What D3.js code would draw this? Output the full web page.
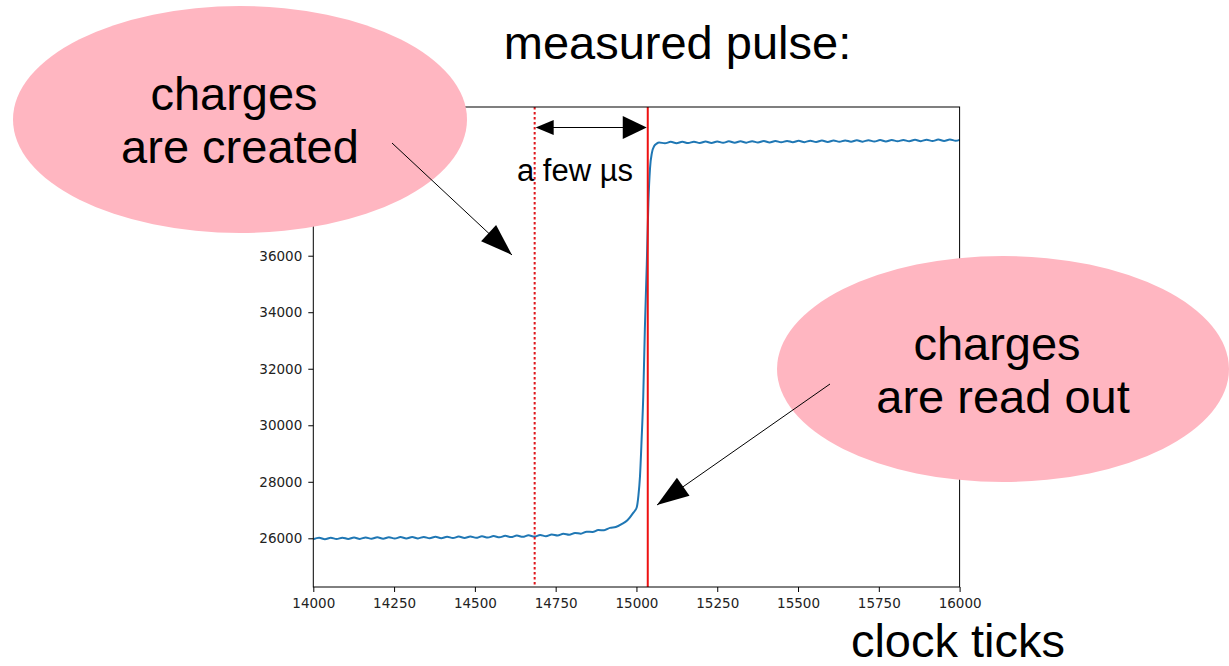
<!DOCTYPE html>
<html>
<head>
<meta charset="utf-8">
<script src="https://cdn.jsdelivr.net/npm/d3@7"></script>
<style>
  html, body { margin: 0; padding: 0; background: #fff; }
  svg { display: block; }
</style>
</head>
<body>
<svg id="chart" width="1229" height="666"></svg>
<script>
// Sampled detector pulse: clock tick vs. ADC counts
const sampleTicks = [
  14000,14018,14036,14054,14072,14090,14108,14126,14144,14162,14180,14198,14216,14234,14252,14270,
  14288,14306,14324,14342,14360,14378,14396,14414,14432,14450,14468,14486,14504,14522,14540,14558,
  14576,14594,14612,14630,14648,14666,14684,14702,14720,14738,14756,14774,14792,14810,14828,14846,
  14864,14882,14900,14918,14936,14954,14972,14990,
  15001,15006,15011,15016,15021,15026,15032,15037,15042,15048,15055,15062,15070,
  15088,15106,15124,15142,15160,15178,15196,15214,15232,15250,15268,15286,15304,15322,15340,15358,
  15376,15394,15412,15430,15448,15466,15484,15502,15520,15538,15556,15574,15592,15610,15628,15646,
  15664,15682,15700,15718,15736,15754,15772,15790,15808,15826,15844,15862,15880,15898,15916,15934,
  15952,15970,15988,16000
];
const sampleCounts = [
  25965,26017,25969,26020,25972,26024,25976,26028,25979,26031,25983,26035,25987,26038,25990,26042,
  25994,26046,25997,26049,26001,26053,26005,26056,26008,26060,26012,26064,26016,26071,26026,26080,
  26035,26089,26043,26098,26052,26107,26061,26116,26075,26137,26100,26162,26125,26190,26165,26235,
  26225,26290,26285,26370,26400,26500,26640,26900,
  27100,27500,28200,29500,31000,33400,35700,37900,39100,39650,39880,39960,40010,
  39977,40028,39980,40032,39984,40035,39987,40039,39991,40042,39994,40046,39998,40049,40001,40053,
  40005,40056,40008,40060,40012,40063,40015,40067,40019,40070,40022,40074,40026,40077,40029,40081,
  40033,40084,40036,40088,40040,40091,40043,40095,40047,40098,40050,40102,40054,40105,40057,40109,
  40061,40112,40064,40100
];

// Axis ticks (upper ticks sit beneath the left callout)
const xTickValues = [14000,14250,14500,14750,15000,15250,15500,15750,16000];
const yTickValues = [26000,28000,30000,32000,34000,36000];

// Marker lines: charge creation and readout
const creationTick = 14685;
const readoutTick = 15035;

const xDomain = [14000, 16000];
const yDomain = [24277, 41262];

const svg = d3.select("#chart");
const plot = { left: 313.3, right: 959.6, top: 107, bottom: 587 };

const x = d3.scaleLinear().domain(xDomain).range([plot.left, plot.right]);
const y = d3.scaleLinear().domain(yDomain).range([plot.bottom, plot.top]);

svg.append("rect").attr("width", 1229).attr("height", 666).attr("fill", "#fff");

// Axes
const tickFont = "'DejaVu Sans', sans-serif";
const xAxis = svg.append("g")
  .attr("transform", `translate(0,${plot.bottom})`)
  .call(d3.axisBottom(x).tickValues(xTickValues).tickFormat(d3.format("d")).tickSize(5).tickPadding(6));
const yAxis = svg.append("g")
  .attr("transform", `translate(${plot.left},0)`)
  .call(d3.axisLeft(y).tickValues(yTickValues).tickFormat(d3.format("d")).tickSize(5).tickPadding(6));
[xAxis, yAxis].forEach(g => {
  g.select(".domain").remove();
  g.selectAll("line").attr("stroke", "#000").attr("stroke-width", 1);
  g.selectAll("text").attr("fill", "#222").style("font-family", tickFont).style("font-size", "13.5px");
});

// Pulse trace
const pts = sampleTicks.map((t, i) => [t, sampleCounts[i]]);
svg.append("path")
  .datum(pts)
  .attr("fill", "none")
  .attr("stroke", "#1f77b4")
  .attr("stroke-width", 2)
  .attr("stroke-linejoin", "round")
  .attr("d", d3.line().x(d => x(d[0])).y(d => y(d[1])).curve(d3.curveMonotoneX));

// Marker lines
svg.append("line")
  .attr("x1", x(creationTick)).attr("x2", x(creationTick))
  .attr("y1", plot.top).attr("y2", plot.bottom)
  .attr("stroke", "#e0161b").attr("stroke-width", 2).attr("stroke-dasharray", "2.4,2.6");
svg.append("line")
  .attr("x1", x(readoutTick)).attr("x2", x(readoutTick))
  .attr("y1", plot.top).attr("y2", plot.bottom)
  .attr("stroke", "#ee1111").attr("stroke-width", 2);

// Plot frame
svg.append("rect")
  .attr("x", plot.left).attr("y", plot.top)
  .attr("width", plot.right - plot.left).attr("height", plot.bottom - plot.top)
  .attr("fill", "none").attr("stroke", "#000").attr("stroke-width", 1);

// Arrow helper: filled triangular head at the end point
function arrowHead(g, x1, y1, x2, y2, len, half) {
  const dx = x2 - x1, dy = y2 - y1, L = Math.hypot(dx, dy);
  const ux = dx / L, uy = dy / L;
  const bx = x2 - ux * len, by = y2 - uy * len;
  g.append("path")
    .attr("d", `M${x2},${y2}L${bx - uy * half},${by + ux * half}L${bx + uy * half},${by - ux * half}Z`)
    .attr("fill", "#000");
}
function arrow(x1, y1, x2, y2, len, half) {
  const g = svg.append("g");
  g.append("line").attr("x1", x1).attr("y1", y1).attr("x2", x2).attr("y2", y2)
    .attr("stroke", "#000").attr("stroke-width", 1);
  arrowHead(g, x1, y1, x2, y2, len, half);
}

// Interval between creation and readout
const ay = 127.5;
const ax1 = x(creationTick) + 1, ax2 = x(readoutTick) - 1;
const dbl = svg.append("g");
dbl.append("line").attr("x1", ax1 + 10).attr("y1", ay).attr("x2", ax2 - 10).attr("y2", ay)
  .attr("stroke", "#000").attr("stroke-width", 1.2);
arrowHead(dbl, ax2, ay, ax1, ay, 18, 7.5);
arrowHead(dbl, ax1, ay, ax2, ay, 24, 11.5);

const textFont = "'Liberation Sans', Arial, sans-serif";
svg.append("text").attr("x", 517).attr("y", 181)
  .style("font-family", textFont).style("font-size", "31px").attr("fill", "#000")
  .text("a few µs");

// Callout bubbles
svg.append("ellipse").attr("cx", 240).attr("cy", 119.5).attr("rx", 227).attr("ry", 113.5).attr("fill", "#ffb6c1");
svg.append("ellipse").attr("cx", 1003).attr("cy", 369).attr("rx", 226).attr("ry", 113).attr("fill", "#ffb6c1");

const big = (tx, ty, s) => svg.append("text").attr("x", tx).attr("y", ty)
  .attr("text-anchor", "middle")
  .style("font-family", textFont).style("font-size", "47px").attr("fill", "#000").text(s);

big(234, 110, "charges");
big(240, 163, "are created");
big(997, 360, "charges");
big(1003, 413, "are read out");

arrow(392, 143, 512, 255, 32, 11);
arrow(830, 384, 657, 505, 32, 11);

// Titles
big(677.5, 59, "measured pulse:");
big(958, 657, "clock ticks");
</script>
</body>
</html>
